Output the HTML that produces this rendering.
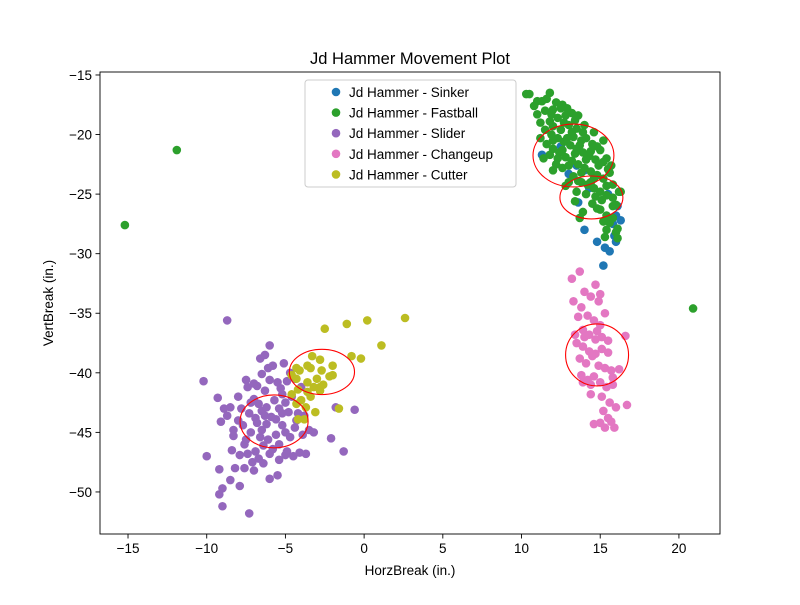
<!DOCTYPE html>
<html><head><meta charset="utf-8"><style>
body{margin:0;background:#fff}
svg{font-family:"Liberation Sans","DejaVu Sans",sans-serif}
</style></head><body>
<svg id="chart" width="800" height="600" viewBox="0 0 800 600"></svg>
<script>
const seriesNames=["Jd Hammer - Sinker","Jd Hammer - Fastball","Jd Hammer - Slider","Jd Hammer - Changeup","Jd Hammer - Cutter"];
const seriesColors=["#1f77b4","#2ca02c","#9467bd","#e377c2","#bcbd22"];
const sinkerPts=[11.3,-21.7,13.0,-23.3,13.6,-25.7,14.0,-28.0,14.8,-29.0,15.3,-29.5,15.6,-29.8,15.2,-31.0,16.0,-29.0,16.3,-27.2,16.0,-26.8,15.8,-27.5,14.3,-24.5,15.5,-25.0,16.2,-24.8,13.5,-22.6,14.0,-23.0,12.5,-21.0,15.9,-28.5,16.1,-26.0];
const fastballPts=[-15.2,-27.6,-11.9,-21.3,20.9,-34.6,10.3,-16.6,10.5,-16.6,11.0,-17.2,11.3,-17.2,11.8,-16.5,12.2,-17.3,12.6,-17.5,12.9,-17.8,13.2,-18.2,11.5,-18.0,11.9,-18.3,12.3,-18.6,12.7,-19.0,13.0,-19.2,13.5,-19.5,13.9,-19.8,11.2,-19.0,11.5,-19.6,11.9,-20.0,12.3,-20.3,12.7,-20.6,13.1,-20.9,13.5,-21.2,13.9,-21.5,14.3,-21.8,14.7,-22.1,11.2,-20.3,11.6,-20.8,12.0,-21.2,12.4,-21.5,12.8,-21.9,13.2,-22.2,13.6,-22.5,14.0,-22.8,14.4,-23.1,14.8,-23.4,15.2,-23.7,12.2,-22.5,12.6,-22.8,13.3,-23.5,13.8,-24.0,14.2,-24.2,14.6,-24.5,15.0,-24.8,15.4,-25.1,15.8,-25.3,16.2,-24.8,13.2,-19.8,13.8,-20.5,14.5,-20.8,15.0,-21.3,15.4,-22.0,15.7,-22.6,14.1,-25.0,14.5,-25.8,15.0,-26.3,15.4,-26.8,15.6,-27.4,15.4,-28.0,15.3,-28.6,16.0,-28.2,16.1,-28.7,13.9,-26.5,12.8,-24.3,13.5,-24.8,15.8,-24.2,16.0,-25.9,15.2,-20.5,14.6,-19.8,12.0,-19.3,12.5,-17.8,11.0,-18.3,11.4,-22.0,12.0,-23.0,15.6,-23.2,16.3,-24.8,14.8,-26.2,13.7,-27.0,
10.8,-17.6,11.6,-17.0,12.0,-17.9,12.8,-18.4,13.4,-18.8,11.8,-18.9,12.5,-19.6,13.3,-20.2,14.1,-20.3,14.8,-21.0,12.0,-20.5,12.9,-20.3,13.7,-20.9,14.4,-21.4,15.2,-22.3,12.6,-21.3,13.4,-21.6,14.1,-22.1,14.9,-22.6,15.5,-22.9,13.0,-22.6,13.8,-23.2,14.6,-23.7,15.4,-24.3,13.0,-24.0,13.6,-23.9,14.4,-24.0,15.1,-25.5,15.8,-26.0,14.7,-25.2,15.2,-27.3,15.8,-27.0,16.1,-27.9,13.4,-25.6,11.8,-21.7,12.3,-22.0,14.0,-19.2,13.6,-18.4];
const sliderPts=[-8.7,-35.6,-6.0,-37.7,-10.2,-40.7,-9.3,-42.1,-7.5,-40.6,-6.6,-38.8,-6.3,-38.5,-5.8,-39.4,-5.1,-39.2,-4.7,-40.0,-4.4,-40.5,-5.5,-40.8,-6.0,-40.6,-6.8,-41.1,-7.4,-41.2,-8.0,-42.0,-6.3,-41.5,-5.2,-41.8,-4.6,-42.0,-5.7,-42.3,-6.7,-42.6,-7.2,-42.5,-8.5,-42.9,-8.9,-43.0,-7.8,-43.0,-6.5,-43.2,-5.4,-43.0,-4.8,-43.3,-4.2,-43.4,-3.8,-43.6,-1.8,-42.9,-0.6,-43.1,-5.9,-43.7,-6.9,-43.8,-8.7,-43.6,-9.1,-44.1,-7.7,-44.4,-6.2,-44.3,-5.2,-44.4,-4.4,-44.6,-3.2,-45.0,-2.1,-45.5,-7.2,-45.0,-8.3,-45.3,-6.6,-45.4,-5.6,-45.2,-4.7,-45.4,-3.9,-45.2,-7.6,-46.0,-6.4,-46.1,-5.4,-46.0,-4.9,-46.6,-4.1,-46.7,-3.7,-46.8,-6.0,-46.8,-6.9,-46.6,-7.4,-46.8,-8.4,-46.5,-10.0,-47.0,-9.2,-48.1,-8.2,-48.0,-7.6,-48.0,-7.0,-48.2,-6.4,-47.6,-5.4,-47.3,-5.0,-46.9,-1.3,-46.6,-7.1,-47.5,-8.5,-49.0,-7.9,-49.5,-9.0,-49.7,-9.2,-50.2,-6.0,-48.9,-5.5,-48.6,-9.0,-51.2,-7.3,-51.8,-6.5,-44.8,-7.0,-42.2,-5.0,-42.5,-4.0,-41.2,-6.1,-39.6,-3.5,-44.8,-8.0,-44.0,-7.3,-43.4,-4.5,-47.0,
-6.2,-42.9,-5.6,-43.9,-6.8,-44.2,-7.5,-45.6,-6.1,-45.6,-5.0,-45.0,-4.3,-44.0,-5.8,-46.4,-6.7,-47.2,-7.9,-46.9,-5.3,-41.3,-4.9,-40.7,-6.5,-40.1,-7.0,-40.9,-8.3,-44.8,-6.3,-43.6,-5.2,-43.4];
const changeupPts=[13.2,-32.1,13.7,-31.5,13.3,-34.0,14.0,-33.2,14.4,-33.6,15.0,-33.4,14.7,-32.6,15.3,-35.0,13.8,-34.5,14.2,-35.2,14.6,-35.6,15.0,-36.0,13.6,-35.3,13.9,-36.4,14.3,-36.8,14.7,-37.2,15.1,-37.0,15.5,-37.3,16.6,-36.9,13.5,-37.5,13.9,-37.8,14.3,-38.2,14.7,-38.4,15.1,-38.0,15.5,-38.3,13.7,-38.8,14.1,-39.2,14.5,-38.6,14.9,-39.4,15.3,-39.6,15.7,-39.8,16.2,-39.7,13.8,-40.2,14.2,-40.6,14.6,-40.3,15.0,-40.8,15.4,-41.2,15.8,-41.0,13.9,-40.8,14.4,-41.8,15.1,-42.0,15.6,-42.5,16.0,-42.9,16.7,-42.7,15.2,-43.2,15.5,-43.8,15.0,-44.2,14.6,-44.3,15.3,-44.6,15.9,-44.6,15.7,-44.1,14.4,-41.0,14.0,-37.0,14.8,-36.5,13.4,-36.8,15.8,-40.4,14.9,-34.0];
const cutterPts=[-2.5,-36.3,-1.1,-35.9,0.2,-35.6,2.6,-35.4,1.1,-37.7,-0.2,-38.8,-0.8,-38.6,-2.8,-38.9,-3.3,-38.6,-2.0,-39.4,-2.7,-39.8,-3.4,-39.6,-4.1,-39.8,-4.6,-40.2,-2.2,-40.3,-3.0,-40.5,-3.6,-40.8,-4.3,-40.5,-2.0,-40.2,-2.6,-41.0,-3.2,-41.2,-2.8,-41.5,-3.6,-41.6,-4.2,-41.4,-4.6,-41.8,-3.4,-42.0,-4.0,-42.3,-3.7,-42.9,-4.3,-42.6,-3.1,-43.3,-3.8,-43.9,-4.2,-43.9,-1.6,-43.0,-2.8,-41.2,-3.6,-39.4,-4.3,-39.6];
const ellipseCenters=[13.3,-21.76,14.44,-25.28,14.8,-38.5,-2.68,-39.93,-5.72,-44.08];
const ellipseRadii=[2.57,2.64,2.0,1.8,2.0,2.6,2.07,1.9,2.16,2.22];
const xTicks=[-15,-10,-5,0,5,10,15,20];
const yTicks=[-15,-20,-25,-30,-35,-40,-45,-50];

const L=100,R=720,T=72,B=534;
const xMin=-16.78,xMax=22.61,yMin=-53.53,yMax=-14.75;
const sx=v=>L+(v-xMin)/(xMax-xMin)*(R-L);
const sy=v=>B-(v-yMin)/(yMax-yMin)*(B-T);
const NS="http://www.w3.org/2000/svg";
const svg=document.getElementById('chart');
function mk(tag,attrs,parent){const e=document.createElementNS(NS,tag);for(const k in attrs)e.setAttribute(k,attrs[k]);(parent||svg).appendChild(e);return e;}

const all=[sinkerPts,fastballPts,sliderPts,changeupPts,cutterPts];
all.forEach((pts,si)=>{
  const g=mk('g',{});
  
  
  for(let i=0;i<pts.length;i+=2){
    const c=mk('circle',{cx:sx(pts[i]),cy:sy(pts[i+1]),r:4.3,fill:seriesColors[si]},g);
    
    
  }
});
for(let i=0;i<ellipseCenters.length;i+=2){
  const cx=sx(ellipseCenters[i]),cy=sy(ellipseCenters[i+1]);
  const rx=sx(ellipseCenters[i]+ellipseRadii[i])-cx, ry=cy-sy(ellipseCenters[i+1]+ellipseRadii[i+1]);
  const e=mk('ellipse',{cx:cx,cy:cy,rx:rx,ry:ry,fill:'none',stroke:'red','stroke-width':1.1});
  
  
}
const frame=mk('rect',{x:L,y:T,width:R-L,height:B-T,fill:'none',stroke:'#000','stroke-width':0.9});


xTicks.forEach(t=>{
  const x=sx(t);
  mk('line',{x1:x,x2:x,y1:B,y2:B+4.5,stroke:'#000','stroke-width':0.9});
  const tx=mk('text',{x:x,y:B+19,'text-anchor':'middle','font-size':13.5});
  tx.textContent=(t<0?'\u2212'+(-t):t);
  
  
});
yTicks.forEach(t=>{
  const y=sy(t);
  mk('line',{x1:L,x2:L-4.5,y1:y,y2:y,stroke:'#000','stroke-width':0.9});
  const tx=mk('text',{x:L-8,y:y+5,'text-anchor':'end','font-size':13.5});
  tx.textContent='\u2212'+(-t);
  
  
});
const title=mk('text',{x:410,y:64,'text-anchor':'middle','font-size':16.5});
title.textContent='Jd Hammer Movement Plot';


const xl=mk('text',{x:410,y:575,'text-anchor':'middle','font-size':13.5});
xl.textContent='HorzBreak (in.)';


const yl=mk('text',{x:0,y:0,'text-anchor':'middle','font-size':13.5,transform:'translate(53,303) rotate(-90)'});
yl.textContent='VertBreak (in.)';


const lg=mk('g',{});


mk('rect',{x:305,y:80,width:211,height:107,rx:3,fill:'#fff','fill-opacity':0.8,stroke:'#ccc'},lg);
seriesNames.forEach((n,i)=>{
  const y=92+i*20.6;
  mk('circle',{cx:336,cy:y,r:4.3,fill:seriesColors[i]},lg);
  const t=mk('text',{x:349,y:y+5,'font-size':13.5},lg);
  t.textContent=n;
  
  
});
</script>
</body></html>
